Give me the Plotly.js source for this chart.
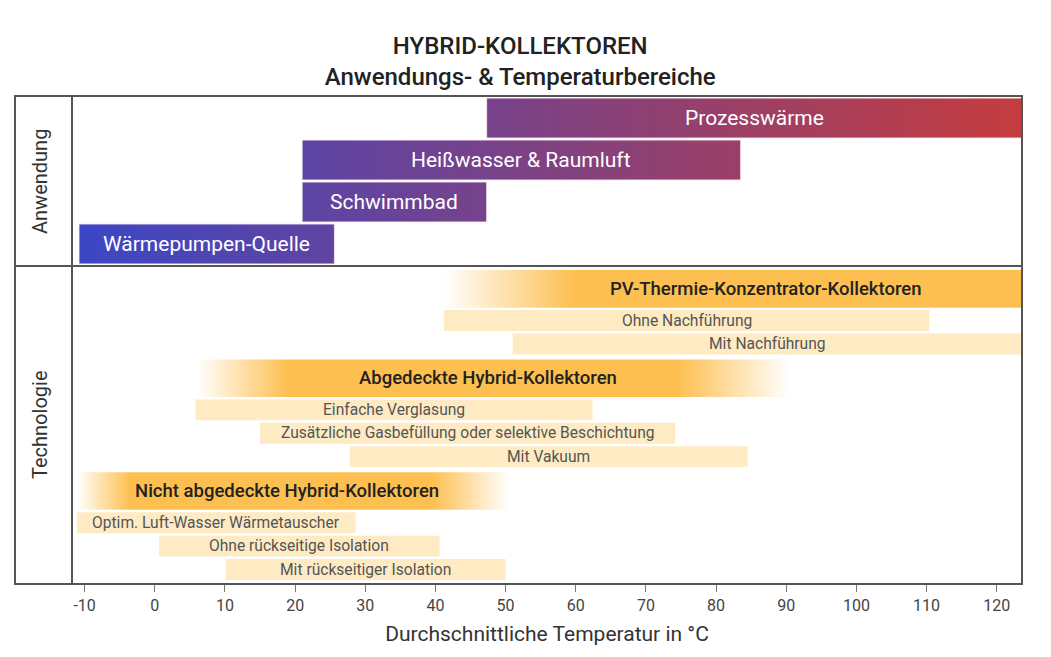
<!DOCTYPE html>
<html><head><meta charset="utf-8">
<script src="https://cdn.plot.ly/plotly-3.0.1.min.js"></script>
<style>html,body{margin:0;padding:0;background:#fff}#chart{width:1051px;height:657px}</style>
</head><body><div id="chart"></div>
<script>
// ---------- data ----------
const appLabels = ['Prozesswärme', 'Heißwasser & Raumluft', 'Schwimmbad', 'Wärmepumpen-Quelle'];
const appStart  = [47.3, 21, 21, -10.8];
const appEnd    = [125, 83.5, 47.3, 25.6];

const techLabels = ['PV-Thermie-Konzentrator-Kollektoren', 'Ohne Nachführung', 'Mit Nachführung',
  'Abgedeckte Hybrid-Kollektoren', 'Einfache Verglasung', 'Zusätzliche Gasbefüllung oder selektive Beschichtung', 'Mit Vakuum',
  'Nicht abgedeckte Hybrid-Kollektoren', 'Optim. Luft-Wasser Wärmetauscher', 'Ohne rückseitige Isolation', 'Mit rückseitiger Isolation'];
const techStart = [50.5, 41.2, 51, 12.5, 5.8, 15, 27.8, -7.3, -11.1, 0.6, 10.1];
const techEnd   = [125, 110.4, 125, 82.5, 62.4, 74.2, 84.5, 45, 28.6, 40.6, 50];
const techIsGroup = [true, false, false, true, false, false, false, true, false, false, false];

const tickValues = [-10, 0, 10, 20, 30, 40, 50, 60, 70, 80, 90, 100, 110, 120];

// ---------- style ----------
const XMIN = -11.8, XMAX = 123.6;
const groupFadeLeft  = {0: 9.3, 3: 6.5, 7: 3.8};
const groupFadeRight = {0: 0, 3: 8, 7: 5.5};
const ORANGE = 'rgba(253,192,80,1)', ORANGE_T = 'rgba(253,192,80,0)';
const CREAM = '#feebc4';
const APP_SCALE = [[0, '#3a47c6'], [1, '#c53c3e']];

const traces = [];
const annotations = [];
const clipC = (a, b) => (Math.max(a, XMIN) + Math.min(b, XMAX)) / 2;

function rect(x0, x1, y0, y1, yaxis, extra) {
  return Object.assign({
    type: 'scatter', mode: 'lines', x: [x0, x1, x1, x0, x0], y: [y0, y0, y1, y1, y0],
    yaxis: yaxis, fill: 'toself', hoverinfo: 'skip', showlegend: false,
    line: {width: 0, color: 'rgba(0,0,0,0)'}
  }, extra);
}

// top panel (applications)
appLabels.forEach((lab, i) => {
  const y0 = i + 0.03, y1 = i + 0.98;
  traces.push(rect(appStart[i], appEnd[i], y0, y1, 'y', {
    line: {width: 1, color: 'rgba(255,235,245,0.8)'},
    fillgradient: {type: 'horizontal', colorscale: APP_SCALE, start: XMIN, stop: XMAX}
  }));
  annotations.push({x: clipC(appStart[i], appEnd[i]), y: (y0 + y1) / 2, xref: 'x', yref: 'y',
    xanchor: 'center', yanchor: 'middle',
    text: lab, showarrow: false, font: {size: 21, color: '#ffffff', family: 'Roboto'}});
});

// bottom panel (technologies)
const HEADER_SLOT = 1.68, SUB_SLOT = 0.985, TOP_PAD = 0.12, PRE_GAP = 0.1;
let cur = TOP_PAD;
techLabels.forEach((lab, i) => {
  const g = techIsGroup[i];
  if (g && i > 0) cur += PRE_GAP;
  const h = g ? HEADER_SLOT : SUB_SLOT;
  const y0 = cur + 0.05, y1 = g ? y0 + 1.58 : y0 + 0.88;
  cur += h;
  if (g) {
    const fl = groupFadeLeft[i], fr = groupFadeRight[i];
    const a = techStart[i] - fl, b = techEnd[i] + fr, tot = b - a;
    const cs = [[0, ORANGE_T], [2 * fl / tot, ORANGE]];
    if (fr > 0) { cs.push([1 - 2 * fr / tot, ORANGE]); cs.push([1, ORANGE_T]); }
    else cs.push([1, ORANGE]);
    traces.push(rect(a, b, y0, y1, 'y2', {
      fillgradient: {type: 'horizontal', colorscale: cs, start: a, stop: b}
    }));
    annotations.push({x: clipC(techStart[i], techEnd[i]), y: (y0 + y1) / 2, xref: 'x', yref: 'y2',
      xanchor: 'center', yanchor: 'middle',
      text: lab, showarrow: false, font: {size: 18.5, color: '#222', family: 'Roboto', weight: 500}});
  } else {
    traces.push(rect(techStart[i], techEnd[i], y0, y1, 'y2', {fillcolor: CREAM}));
    annotations.push({x: clipC(techStart[i], techEnd[i]), y: (y0 + y1) / 2, xref: 'x', yref: 'y2',
      xanchor: 'center', yanchor: 'middle',
      text: lab, showarrow: false, font: {size: 15.6, color: '#555', family: 'Roboto'}});
  }
});
const Y2MAX = 13.35;

const DIV = 0.6516, LEFTX = -0.06;
annotations.push({x: -0.0337, y: (1 + DIV) / 2, xref: 'paper', yref: 'paper', text: 'Anwendung',
  xanchor: 'center', yanchor: 'middle',
  textangle: -90, showarrow: false, font: {size: 20, color: '#333', family: 'Roboto'}});
annotations.push({x: -0.0337, y: DIV / 2, xref: 'paper', yref: 'paper', text: 'Technologie',
  xanchor: 'center', yanchor: 'middle',
  textangle: -90, showarrow: false, font: {size: 20, color: '#333', family: 'Roboto'}});

const frame = {color: '#555', width: 2};
const shapes = [
  {type: 'rect', xref: 'paper', yref: 'paper', x0: LEFTX, x1: 1, y0: 0, y1: 1, line: frame, layer: 'above'},
  {type: 'line', xref: 'paper', yref: 'paper', x0: 0, x1: 0, y0: 0, y1: 1, line: frame, layer: 'above'},
  {type: 'line', xref: 'paper', yref: 'paper', x0: LEFTX, x1: 1, y0: DIV, y1: DIV, line: frame, layer: 'above'}
];

const layout = {
  width: 1051, height: 657,
  margin: {l: 72, r: 29, t: 96, b: 73},
  paper_bgcolor: '#fff', plot_bgcolor: 'rgba(0,0,0,0)',
  showlegend: false,
  font: {family: 'Roboto, sans-serif', color: '#333'},
  title: {text: 'HYBRID-KOLLEKTOREN<br>Anwendungs- &amp; Temperaturbereiche',
    x: 0.495, xanchor: 'center', xref: 'container', y: 0.918, yanchor: 'top', yref: 'container',
    font: {size: 24, color: '#222', family: 'Roboto', weight: 500}},
  xaxis: {range: [XMIN, XMAX], anchor: 'y2', tickmode: 'array', tickvals: tickValues,
    ticktext: tickValues.map(String),
    ticks: 'outside', ticklen: 7, tickcolor: '#777', tickwidth: 1,
    tickfont: {size: 16, color: '#444', family: 'Roboto'},
    showgrid: false, zeroline: false, showline: false, fixedrange: true,
    title: {text: 'Durchschnittliche Temperatur in °C', font: {size: 21, color: '#333', family: 'Roboto'}, standoff: 12}},
  yaxis: {domain: [DIV, 1], range: [4.03, -0.02], visible: false, fixedrange: true},
  yaxis2: {domain: [0, DIV], range: [Y2MAX, 0], visible: false, fixedrange: true},
  shapes: shapes,
  annotations: annotations
};

Plotly.newPlot('chart', traces, layout, {displayModeBar: false, staticPlot: true});
</script>
</body></html>
